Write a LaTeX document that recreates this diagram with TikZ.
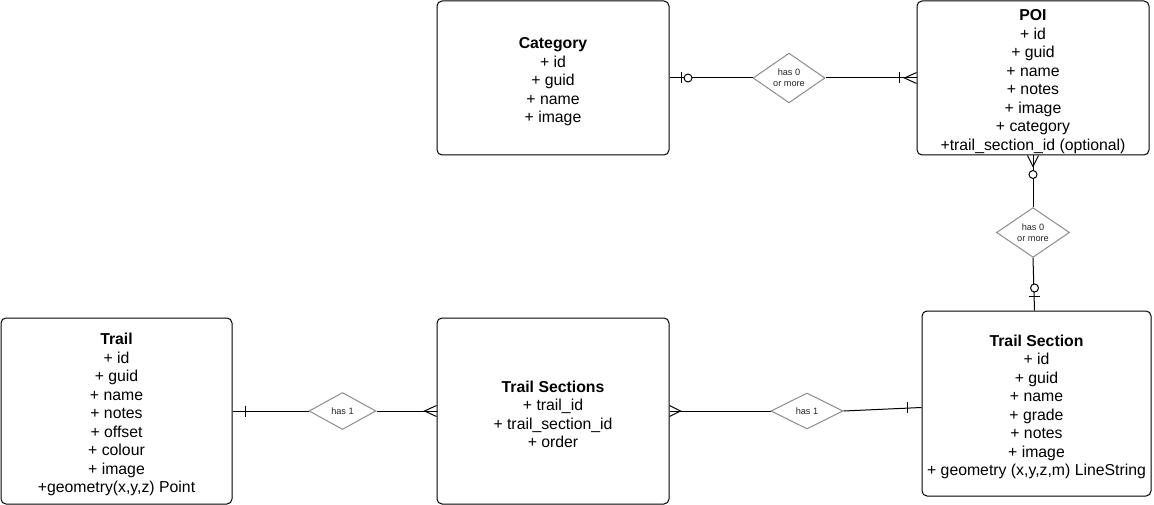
\documentclass[tikz,border=0pt]{standalone}
\usepackage{fontspec}
\setmainfont{Liberation Sans}
\usetikzlibrary{shapes.geometric,calc}
\definecolor{dgray}{RGB}{140,140,140}
\newcommand{\toppad}{\rule{0pt}{18.5pt}}
\begin{document}
\begin{tikzpicture}[x=1pt,y=-1pt,
  entity/.style={draw=black,line width=1pt,rounded corners=5pt,fill=white,align=center,inner sep=0pt,font=\fontsize{15.8}{18.5}\selectfont},
  rel/.style={draw=dgray,line width=1pt,shape=diamond,inner sep=0pt,align=center,fill=white,font=\fontsize{9.2}{11.3}\selectfont,text=black!85},
  conn/.style={line width=1pt,draw=black}]
\useasboundingbox (0,0) rectangle (1154,505);
% entities
\node[entity,minimum width=232pt,minimum height=154pt] (cat) at (553,78) {\toppad\textbf{Category}\\+ id\\+ guid\\+ name\\+ image};
\node[entity,minimum width=232pt,minimum height=154pt] (poi) at (1033,78) {\toppad\textbf{POI}\\+ id\\+ guid\\+ name\\+ notes\\+ image\\+ category\\+trail\_section\_id (optional)};
\node[entity,minimum width=231pt,minimum height=186pt] (trail) at (116.5,411) {\toppad\textbf{Trail}\\+ id\\+ guid\\+ name\\+ notes\\+ offset\\+ colour\\+ image\\+geometry(x,y,z) Point};
\node[entity,minimum width=232pt,minimum height=186pt] (tss) at (553,411) {\toppad\textbf{Trail Sections}\\+ trail\_id\\+ trail\_section\_id\\+ order};
\node[entity,minimum width=229pt,minimum height=185pt] (ts) at (1036.5,403.5) {\toppad\textbf{Trail Section}\\+ id\\+ guid\\+ name\\+ grade\\+ notes\\+ image\\+ geometry (x,y,z,m) LineString};
% relationships
\node[rel,minimum width=72pt,minimum height=36pt] (d1) at (789,78) {has 0\\or more};
\node[rel,minimum width=73pt,minimum height=35pt] (d2) at (1033,232.5) {has 0\\or more};
\node[rel,minimum width=67pt,minimum height=37pt] (d3) at (342.5,411) {has 1};
\node[rel,minimum width=72pt,minimum height=36pt] (d4) at (807,411) {has 1};
\coordinate (tsn) at ([xshift=-2pt]ts.north);
\coordinate (tsw) at ([yshift=-4pt]ts.west);
% connectors
\draw[conn] (cat.east) -- (d1.west);
\draw[conn] (d1.east) -- (poi.west);
\draw[conn] (poi.south) -- (d2.north);
\draw[conn] (d2.south) -- (tsn);
\draw[conn] (trail.east) -- (d3.west);
\draw[conn] (d3.east) -- (tss.west);
\draw[conn] (tss.east) -- (d4.west);
\draw[conn] (d4.east) -- (tsw);
% markers
\draw[conn] ($(cat.east)+(12,-5.5)$) -- ($(cat.east)+(12,5.5)$);
\draw[conn,fill=white] ($(cat.east)+(18.5,0)$) circle[radius=4pt];
\draw[conn] ($(poi.west)+(-17,-5.5)$) -- ($(poi.west)+(-17,5.5)$);
\draw[conn] ($(poi.west)+(0,-5.5)$) -- ($(poi.west)+(-12,0)$) -- ($(poi.west)+(0,5.5)$);
\draw[conn] ($(poi.south)+(-5.5,0)$) -- ($(poi.south)+(0,11)$) -- ($(poi.south)+(5.5,0)$);
\draw[conn,fill=white] ($(poi.south)+(0,19)$) circle[radius=4pt];
\draw[conn] ($(tsn)+(-5.5,-14)$) -- ($(tsn)+(5.5,-14)$);
\draw[conn,fill=white] ($(tsn)+(0,-22.5)$) circle[radius=4pt];
\draw[conn] ($(trail.east)+(13,-5.5)$) -- ($(trail.east)+(13,5.5)$);
\draw[conn] ($(tss.west)+(0,-5.5)$) -- ($(tss.west)+(-12,0)$) -- ($(tss.west)+(0,5.5)$);
\draw[conn] ($(tss.east)+(0,-5.5)$) -- ($(tss.east)+(11,0)$) -- ($(tss.east)+(0,5.5)$);
\draw[conn] ($(tsw)+(-14,-5.5)$) -- ($(tsw)+(-14,5.5)$);
\end{tikzpicture}
\end{document}
